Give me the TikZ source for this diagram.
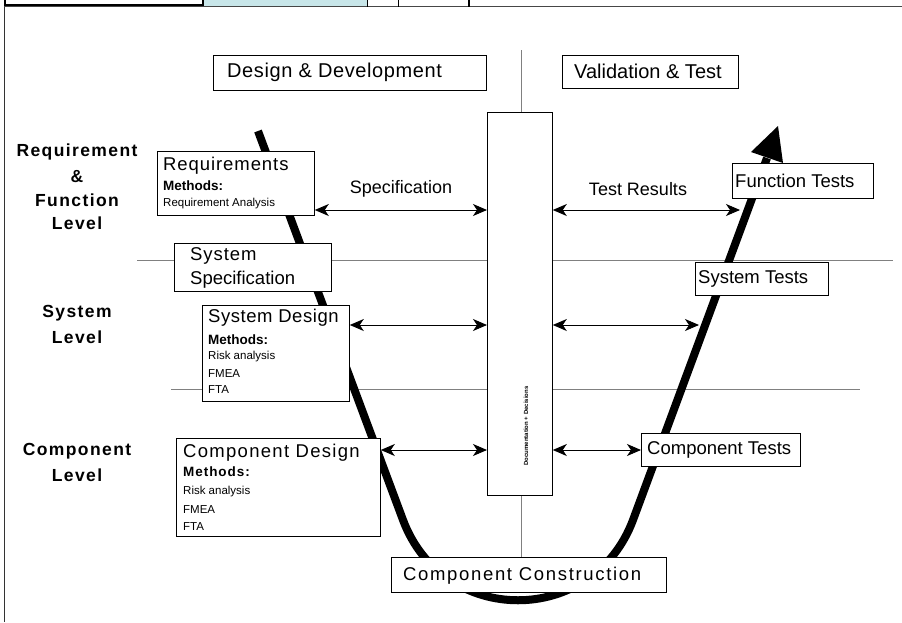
\documentclass[tikz,border=0pt]{standalone}
\usepackage{fontspec}
\setmainfont{Liberation Sans}
\usetikzlibrary{arrows.meta}
\newcommand\myfs[1]{\fontsize{#1}{#1}\selectfont}
\definecolor{topblue}{RGB}{200,230,233}
\definecolor{lgray}{RGB}{128,128,128}
\begin{document}
\begin{tikzpicture}[x=1pt,y=-1pt,
  box/.style={draw=black,line width=0.8pt,fill=white,inner sep=0pt,anchor=north west},
  txt/.style={anchor=west,inner sep=0pt},
  big/.style={txt,font=\myfs{18.5}},
  meth/.style={txt,font=\myfs{13.5}\bfseries},
  small/.style={txt,font=\myfs{11.5}},
  lvl/.style={inner sep=0pt,font=\myfs{17.5}\bfseries\addfontfeature{LetterSpace=8}},
  gline/.style={draw=lgray,line width=0.8pt},
  dbl/.style={line width=0.9pt,{Stealth[length=14pt,width=12pt,inset=4pt]}-{Stealth[length=14pt,width=12pt,inset=4pt]}},
  vband/.style={line width=8pt,line cap=butt,line join=round}
]
\useasboundingbox (0,0) rectangle (902,622);
% top strip
\fill[topblue] (204,-1) rectangle (367,6);
\draw[line width=1.6pt] (5,-3) rectangle (203,5);
\draw[gray!55!black,line width=1pt] (4,6.5) -- (902,6.5);
\draw[line width=0.8pt] (367,0) -- (367,7);
\draw[line width=0.8pt] (398,0) -- (398,7);
\draw[line width=1.6pt] (469,0) -- (469,7);
\draw[gray!40!black,line width=1pt] (4,6.5) -- (4,622);
% guide lines
\coordinate (l1a) at (137,260); \coordinate (l1b) at (893,260);
\coordinate (l2a) at (171,389); \coordinate (l2b) at (860,389);
\coordinate (vta) at (521,50); \coordinate (vtb) at (521,557);
\draw[gline] (l1a) -- (l1b);
\draw[gline] (l2a) -- (l2b);
\draw[gline] (vta) -- (vtb);
% the V band
\coordinate (c0) at (258,131);
\coordinate (c1) at (403,520);
\coordinate (c2) at (633,520);
\coordinate (c3) at (767,158);
\draw[vband] (c0) -- (c1) .. controls (443,627) and (593,627) .. (c2) -- (c3);
\fill (778,126) -- (751,152) -- (783,163) -- cycle;
% header boxes
\node[box,minimum width=273pt,minimum height=35pt] (dd) at (213,55) {};
\node[txt,font=\myfs{20}\addfontfeature{LetterSpace=3}] (ddt) at (227,72.5) {Design \& Development};
\node[box,minimum width=176pt,minimum height=33pt] (vt) at (562,55) {};
\node[txt,font=\myfs{20}] (vtt) at (574,71.5) {Validation \& Test};
% central box
\node[box,minimum width=65pt,minimum height=383pt] (mid) at (487,112) {};
\node[rotate=90,inner sep=0pt,font=\myfs{6}\bfseries] (midt) at (526,426) {Documentation + Decisions};
% left boxes
\node[box,minimum width=157pt,minimum height=64pt] (req) at (157,151) {};
\node[big,font=\myfs{18.5}\addfontfeature{LetterSpace=5}] (reqt) at (163,166) {Requirements};
\node[meth] (reqm) at (163,186) {Methods:};
\node[small] (reqa) at (163,204) {Requirement Analysis};
\node[box,minimum width=157pt,minimum height=48pt] (ss) at (174,243) {};
\node[big,font=\myfs{18.5}\addfontfeature{LetterSpace=5}] (sst1) at (190,256) {System};
\node[big] (sst2) at (190,279.5) {Specification};
\node[box,minimum width=147pt,minimum height=96pt] (sd) at (202,305) {};
\node[big,font=\myfs{18.5}\addfontfeature{LetterSpace=3}] (sdt) at (208,318) {System Design};
\node[meth] (sdm) at (208,340) {Methods:};
\node[small] (sdr) at (208,357) {Risk analysis};
\node[small] (sdf) at (208,373.5) {FMEA};
\node[small] (sda) at (208,390) {FTA};
\node[box,minimum width=204pt,minimum height=98pt] (cd) at (176,438) {};
\node[big,font=\myfs{18.5}\addfontfeature{LetterSpace=7}] (cdt) at (183,453) {Component Design};
\node[meth,font=\myfs{13.5}\bfseries\addfontfeature{LetterSpace=7}] (cdm) at (183,472) {Methods:};
\node[small] (cdr) at (183,492) {Risk analysis};
\node[small] (cdf) at (183,509.5) {FMEA};
\node[small] (cda) at (183,527) {FTA};
\node[box,minimum width=275pt,minimum height=35pt] (cc) at (391,557) {};
\node[big,font=\myfs{18.5}\addfontfeature{LetterSpace=9}] (cct) at (403,575.5) {Component Construction};
% right boxes
\node[box,minimum width=141pt,minimum height=35pt] (ft) at (732,163) {};
\node[big] (ftt) at (735,181) {Function Tests};
\node[box,minimum width=133pt,minimum height=33pt] (st) at (695,262) {};
\node[big] (stt) at (698,279) {System Tests};
\node[box,minimum width=159pt,minimum height=33pt] (ct) at (641,433) {};
\node[big] (ctt) at (647,450) {Component Tests};
% level labels
\node[lvl] (r1) at (77,152) {Requirement};
\node[lvl] (r2) at (77,177) {\&};
\node[lvl] (r3) at (77,200) {Function};
\node[lvl] (r4) at (77,223.5) {Level};
\node[lvl] (s1) at (77,313) {System};
\node[lvl] (s2) at (77,337) {Level};
\node[lvl] (k1) at (77,451) {Component};
\node[lvl] (k2) at (77,475) {Level};
% arrows
\coordinate (ya) at (0,210);
\coordinate (yb) at (0,325);
\coordinate (yc) at (0,450);
\coordinate (ea) at (740,210);
\coordinate (eb) at (699,325);
\draw[dbl] (req.east |- ya) -- (mid.west |- ya);
\draw[dbl] (mid.east |- ya) -- (ea);
\draw[dbl] (sd.east |- yb) -- (mid.west |- yb);
\draw[dbl] (mid.east |- yb) -- (eb);
\draw[dbl] (cd.east |- yc) -- (mid.west |- yc);
\draw[dbl] (mid.east |- yc) -- (ct.west |- yc);
\node[inner sep=0pt,font=\myfs{18}] (spec) at (401,189) {Specification};
\node[inner sep=0pt,font=\myfs{18}] (tres) at (638,189) {Test Results};
\end{tikzpicture}
\end{document}
